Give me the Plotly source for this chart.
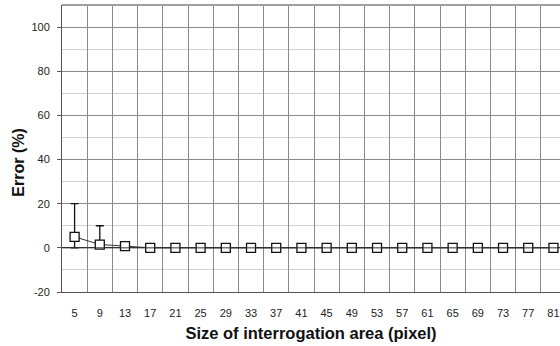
import plotly.graph_objects as go

sizes = [5, 9, 13, 17, 21, 25, 29, 33, 37, 41, 45, 49, 53, 57, 61, 65, 69, 73, 77, 81]
error_mean = [5, 1.5, 0.8, 0, 0, 0, 0, 0, 0, 0, 0, 0, 0, 0, 0, 0, 0, 0, 0, 0]
err_plus = [15, 8.5, 1.7, 0.6, 0.6, 0.6, 0.6, 0.6, 0.6, 0.6, 0.6, 0.6, 0.6, 0.6, 0.6, 0.6, 0.6, 0.6, 0.6, 0.6]
err_minus = [5, 1.5, 0.8, 0.6, 0.6, 0.6, 0.6, 0.6, 0.6, 0.6, 0.6, 0.6, 0.6, 0.6, 0.6, 0.6, 0.6, 0.6, 0.6, 0.6]
y_ticks = [-20, 0, 20, 40, 60, 80, 100]
y_tick_text = ["-20", "0", "20", "40", "60", "80", "100"]

labels = [str(s) for s in sizes]

fig = go.Figure()
fig.add_trace(go.Scatter(
    x=labels, y=error_mean,
    mode="lines+markers",
    line=dict(color="#333333", width=1),
    marker=dict(symbol="square", size=9, color="white", line=dict(color="#111111", width=1.3)),
    error_y=dict(type="data", symmetric=False, array=err_plus, arrayminus=err_minus,
                 color="#111111", thickness=1.3, width=4),
    showlegend=False,
    hoverinfo="skip",
))

font = "Liberation Sans, Arial, sans-serif"
fig.update_layout(
    width=560, height=346,
    margin=dict(l=62, r=0, t=5, b=54, autoexpand=False),
    paper_bgcolor="white", plot_bgcolor="white",
    font=dict(family=font, size=11, color="#222222"),
    xaxis=dict(
        type="category",
        range=[-0.5, 19.26],
        tickson="boundaries",
        showgrid=True, gridcolor="#8a8a8a", gridwidth=1,
        ticks="", ticklabelstandoff=11,
        automargin=False,
        showline=True, linecolor="#555555", linewidth=1,
        title=dict(text="<b>Size of interrogation area (pixel)</b>",
                   font=dict(size=16.5, family=font, color="#111111"), standoff=9),
    ),
    yaxis=dict(
        range=[-20, 110],
        tickvals=y_ticks, ticktext=y_tick_text,
        showgrid=True, gridcolor="#8a8a8a", gridwidth=1,
        minor=dict(dtick=10, tick0=0, showgrid=True, gridcolor="#d0d0d0", gridwidth=1),
        zeroline=True, zerolinecolor="#333333", zerolinewidth=1,
        ticks="outside", ticklen=4, tickcolor="#555555",
        ticklabelstandoff=5,
        automargin=False,
        showline=True, linecolor="#555555", linewidth=1,
    ),
    annotations=[dict(
        text="<b>Error (%)</b>", textangle=-90,
        xref="paper", yref="paper", x=0, y=0.449, xshift=-43.5,
        xanchor="center", yanchor="middle", showarrow=False,
        font=dict(size=16, family=font, color="#111111"),
    )],
    shapes=[
        dict(type="line", xref="paper", yref="paper", x0=0, x1=1, y0=1, y1=1,
             line=dict(color="#a0a0a0", width=2)),
        dict(type="line", xref="paper", yref="y", x0=0, x1=1, y0=0, y1=0, layer="above",
             line=dict(color="#333333", width=1)),
    ],
)

fig.write_html("out.html",
               config={"displayModeBar": False},
               post_script="document.body.style.margin='0';document.body.style.overflow='hidden';")
